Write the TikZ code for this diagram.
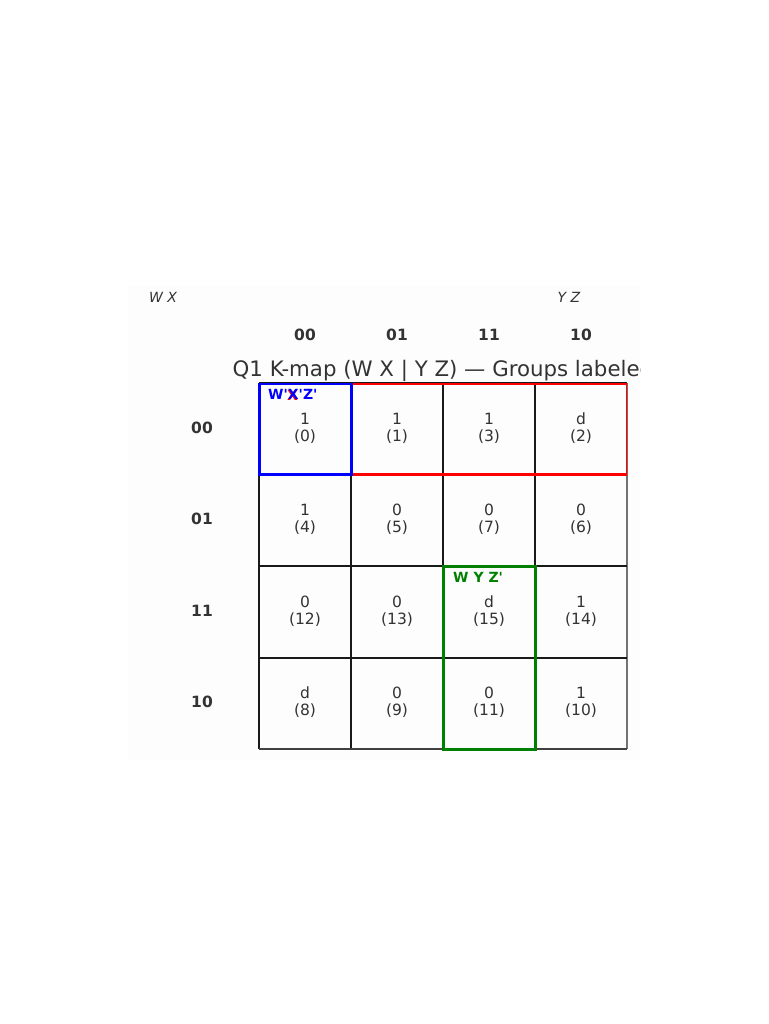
\documentclass[tikz,border=0pt]{standalone}
\usepackage{fontspec}
\setmainfont{DejaVu Sans}
\definecolor{txt}{HTML}{333333}
\definecolor{grp}{HTML}{008000}
\newcommand{\sq}{\textquotesingle}
\begin{document}
\begin{tikzpicture}[x=1pt,y=-1pt,
  cell/.style={text=txt,align=center,font=\fontsize{15.5}{17}\selectfont,inner sep=0pt},
  hdr/.style={text=txt,font=\fontsize{15.5}{17}\selectfont\bfseries,inner sep=0pt},
  axl/.style={text=txt,font=\fontsize{14}{16}\selectfont\itshape,inner sep=0pt},
  glab/.style={font=\fontsize{14}{16}\selectfont\bfseries,inner sep=0pt,anchor=west},
  gridline/.style={line width=1.5pt,black!90},
  edgeline/.style={line width=1.5pt,black!55},
  grpline/.style={line width=3pt}]
\useasboundingbox (0,0) rectangle (768,1024);
\fill[black!0.7] (128,285) rectangle (640,760);
% axis labels
\node[axl] (wx) at (163,297) {W X};
\node[axl] (yz) at (569,297) {Y Z};
% column headers
\node[hdr] (c0) at (305,335) {00};
\node[hdr] (c1) at (397,335) {01};
\node[hdr] (c2) at (489,335) {11};
\node[hdr] (c3) at (581,335) {10};
% row headers
\node[hdr] (r0) at (202,428) {00};
\node[hdr] (r1) at (202,519) {01};
\node[hdr] (r2) at (202,611) {11};
\node[hdr] (r3) at (202,702) {10};
% title (clipped at figure edge)
\begin{scope}
\clip (0,340) rectangle (640,400);
\node[text=txt,font=\fontsize{21.3}{23}\selectfont,anchor=west,inner sep=0pt] (title) at (232.5,370.5) {Q1 K-map (W X | Y Z) — Groups labeled};
\end{scope}
% grid
\draw[gridline] (259,383) -- (259,749);
\draw[gridline] (351,383) -- (351,749);
\draw[gridline] (443,383) -- (443,749);
\draw[gridline] (535,383) -- (535,749);
\draw[edgeline] (627,383) -- (627,749);
\draw[gridline] (259,383) -- (627,383);
\draw[gridline] (259,474) -- (627,474);
\draw[gridline] (259,566) -- (627,566);
\draw[gridline] (259,658) -- (627,658);
\draw[gridline,black!75] (259,749) -- (627,749);
% cells
\node[cell] (m0) at (305,428) {1\\(0)};
\node[cell] (m1) at (397,428) {1\\(1)};
\node[cell] (m3) at (489,428) {1\\(3)};
\node[cell] (m2) at (581,428) {d\\(2)};
\node[cell] (m4) at (305,519) {1\\(4)};
\node[cell] (m5) at (397,519) {0\\(5)};
\node[cell] (m7) at (489,519) {0\\(7)};
\node[cell] (m6) at (581,519) {0\\(6)};
\node[cell] (m12) at (305,611) {0\\(12)};
\node[cell] (m13) at (397,611) {0\\(13)};
\node[cell] (m15) at (489,611) {d\\(15)};
\node[cell] (m14) at (581,611) {1\\(14)};
\node[cell] (m8) at (305,702) {d\\(8)};
\node[cell] (m9) at (397,702) {0\\(9)};
\node[cell] (m11) at (489,702) {0\\(11)};
\node[cell] (m10) at (581,702) {1\\(10)};
% groups (clipped at top/right of the map)
\begin{scope}
\clip (250,383) rectangle (627,760);
\draw[red,grpline] (351,383) rectangle (627,474);
\draw[blue,grpline] (259,383) rectangle (351,474);
\draw[grp,grpline] (443,566) rectangle (535,749);
\end{scope}
\node[glab,text=red] (redlab) at (287,395.5) {X};
\node[glab,text=blue] (bluelab) at (268,394) {W\sq X\sq Z\sq};
\node[glab,text=grp] (greenlab) at (453,577) {W\ Y\ Z\sq};
\end{tikzpicture}
\end{document}
